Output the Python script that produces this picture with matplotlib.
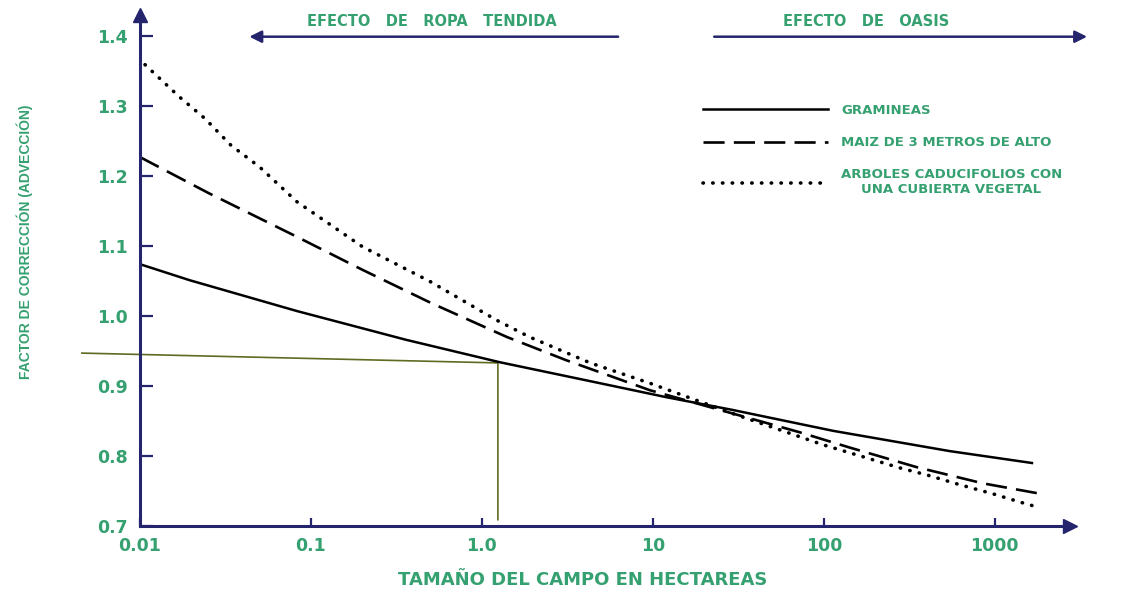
import matplotlib
matplotlib.use("Agg")
import matplotlib.pyplot as plt

# curves (field size in ha, correction factor)
gram_x = [0.01, 0.0196, 0.083, 0.36, 1.27, 4.9, 12, 29, 113, 545, 1650]
gram_y = [1.074, 1.051, 1.007, 0.966, 0.934, 0.904, 0.884, 0.866, 0.836, 0.807, 0.790]

maiz_x = [0.01, 0.025, 0.083, 0.20, 0.50, 1.4, 3.1, 9.6, 29, 72, 142, 350, 850, 1760]
maiz_y = [1.227, 1.176, 1.113, 1.066, 1.019, 0.970, 0.937, 0.894, 0.861, 0.834, 0.812,
          0.784, 0.761, 0.747]

arb_x = [0.0107, 0.017, 0.024, 0.034, 0.050, 0.083, 0.20, 0.50, 1.22, 1.9, 4.3, 9.6, 29,
         99, 169, 278, 400, 624, 973, 1460, 1780]
arb_y = [1.359, 1.313, 1.282, 1.244, 1.213, 1.163, 1.099, 1.049, 0.994, 0.970, 0.933,
         0.904, 0.861, 0.816, 0.799, 0.783, 0.773, 0.759, 0.746, 0.733, 0.727]

# reading guide (horizontal then vertical)
guide_x = [0.00457, 1.24, 1.24]
guide_y = [0.947, 0.933, 0.709]

labels = ["GRAMINEAS", "MAIZ DE 3 METROS DE ALTO",
          "ARBOLES CADUCIFOLIOS CON\nUNA CUBIERTA VEGETAL"]
xticks = [0.01, 0.1, 1.0, 10, 100, 1000]
xtick_labels = ["0.01", "0.1", "1.0", "10", "100", "1000"]
yticks = [0.7, 0.8, 0.9, 1.0, 1.1, 1.2, 1.3, 1.4]

ropa_span = (0.042, 6.5)
oasis_span = (22, 3600)

GREEN = "#35a070"
NAVY = "#25256e"
OLIVE = "#5f6b22"

W, H = 1143, 591
fig = plt.figure(figsize=(W / 100, H / 100), dpi=100)
ax = fig.add_axes([140 / W, 1 - 526 / H, (1070 - 140) / W, (526 - 15) / H])

ax.set_xscale("log")
ax.set_xlim(0.01, 10 ** 3.44)
ax.set_ylim(0.7, 0.7 + 511 / 700)

l1, = ax.plot(gram_x, gram_y, color="black", lw=1.8, label=labels[0])
l2, = ax.plot(maiz_x, maiz_y, color="black", lw=1.9, linestyle=(0, (8, 3.5)), label=labels[1])
l3, = ax.plot(arb_x, arb_y, color="black", lw=2.6, linestyle=(0, (0.1, 2.6)),
              dash_capstyle="round", label=labels[2])
ax.plot(guide_x, guide_y, color=OLIVE, lw=1.2, clip_on=False, zorder=1)

for s in ["top", "right"]:
    ax.spines[s].set_visible(False)
for s in ["left", "bottom"]:
    ax.spines[s].set_color(NAVY)
    ax.spines[s].set_linewidth(2.2)
ax.plot(1, 0, ">", color=NAVY, ms=10, transform=ax.transAxes, clip_on=False)
ax.plot(0, 1, "^", color=NAVY, ms=10, transform=ax.transAxes, clip_on=False)

ax.set_xticks(xticks)
ax.set_xticklabels(xtick_labels)
ax.minorticks_off()
ax.set_yticks(yticks)
ax.set_yticklabels([f"{v:.1f}" for v in yticks])
ax.tick_params(axis="y", direction="in", length=9, width=1.6, color=NAVY, pad=9,
               labelsize=12.5, labelcolor=GREEN)
ax.tick_params(axis="x", direction="in", length=6, width=1.6, color=NAVY, pad=8,
               labelsize=12.5, labelcolor=GREEN)
for t in ax.get_xticklabels() + ax.get_yticklabels():
    t.set_fontweight("bold")

ax.set_xlabel("TAMAÑO DEL CAMPO EN HECTAREAS", color=GREEN, fontsize=13, fontweight="bold")
ax.xaxis.set_label_coords(0.476, -0.088)
ax.set_ylabel("FACTOR DE CORRECCIÓN (ADVECCIÓN)", color=GREEN, fontsize=10,
              fontweight="bold", family=["Liberation Sans Narrow", "Liberation Sans"])
ax.yaxis.set_label_coords(-0.115, 0.556)

# top arrows
ax.annotate("", xy=(ropa_span[0], 1.399), xytext=(ropa_span[1], 1.399),
            arrowprops=dict(arrowstyle="-|>", color=NAVY, lw=1.8, mutation_scale=18),
            annotation_clip=False)
ax.annotate("", xy=(oasis_span[1], 1.399), xytext=(oasis_span[0], 1.399),
            arrowprops=dict(arrowstyle="-|>", color=NAVY, lw=1.8, mutation_scale=18),
            annotation_clip=False)
ax.text(0.51, 1.42, "EFECTO   DE   ROPA   TENDIDA", color=GREEN, fontsize=10.5,
        fontweight="bold", ha="center", va="center", clip_on=False)
ax.text(176, 1.42, "EFECTO   DE   OASIS", color=GREEN, fontsize=10.5,
        fontweight="bold", ha="center", va="center", clip_on=False)

leg = ax.legend(handles=[l1, l2, l3], loc="upper left", frameon=False,
                bbox_to_anchor=(703 / W, 1 - 104 / H), bbox_transform=fig.transFigure,
                borderpad=0, borderaxespad=0, handlelength=9.5, handletextpad=0.95,
                labelspacing=1.45, prop={"size": 9.5, "weight": "bold"})
for t in leg.get_texts():
    t.set_color(GREEN)
    t.set_multialignment("center")

fig.savefig("out.png", dpi=100, facecolor="white")
